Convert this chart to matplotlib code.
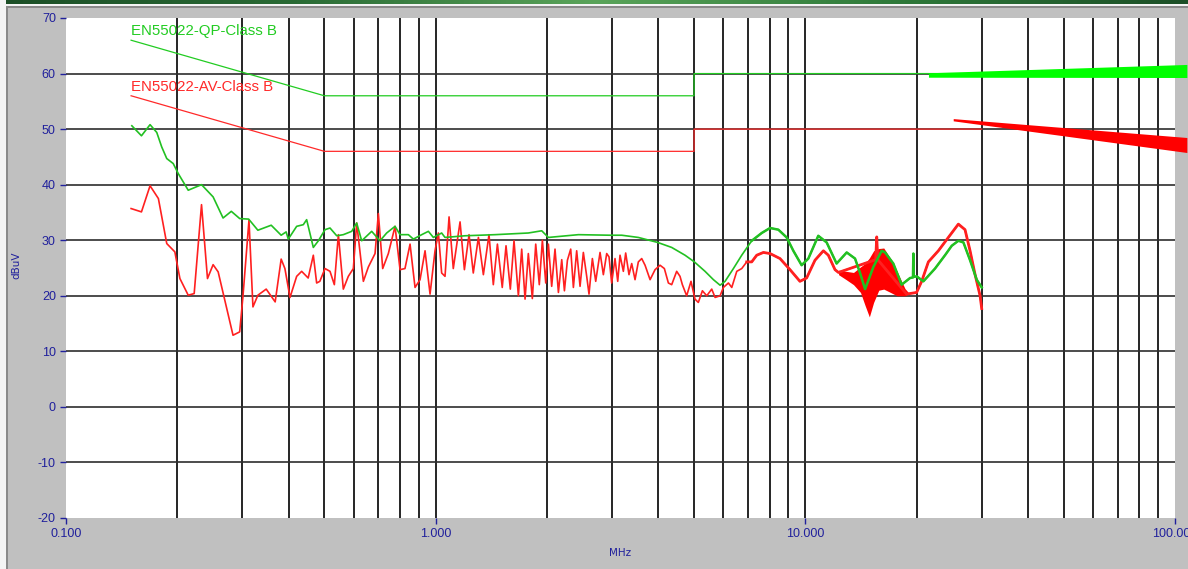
import numpy as np
import matplotlib
matplotlib.use('Agg')
import matplotlib.pyplot as plt
from matplotlib.patches import Rectangle
from matplotlib.colors import LinearSegmentedColormap

plt.rcParams['axes.unicode_minus'] = False

# ---------------- data ----------------
# limit lines (MHz, dBuV)
qp_lim_freq = [0.15, 0.5, 5, 5, 30]
qp_lim_db = [66, 56, 56, 60, 60]
av_lim_freq = [0.15, 0.5, 5, 5, 30]
av_lim_db = [56, 46, 46, 50, 50]

# rendering artefacts (wedges) seen at the right edge
qp_wedge_freq = [21.6, 108, 108, 21.6]
qp_wedge_db = [60.05, 61.55, 59.2, 59.25]
av_wedge_freq = [25.2, 108, 108, 25.2]
av_wedge_db = [51.8, 48.4, 45.7, 51.4]

# QP measured trace
qp_freq = [0.1507, 0.160, 0.1688, 0.176, 0.1815, 0.1873, 0.195, 0.2012, 0.2141, 0.2326,
           0.250, 0.266, 0.280, 0.295, 0.312, 0.3304, 0.359, 0.382, 0.394, 0.3993,
           0.4207, 0.4385, 0.4477, 0.4667, 0.4816, 0.502, 0.5178, 0.540, 0.5626, 0.5927,
           0.6114, 0.6308, 0.6713, 0.707, 0.737, 0.7764, 0.801, 0.8437, 0.8703, 0.9167,
           0.9556, 0.9858, 1.038, 1.06, 1.2, 1.447, 1.781, 1.936, 2.018, 2.433,
           2.964, 3.186, 3.534, 3.987, 4.350, 4.727, 5.010, 5.354, 5.641, 5.880,
           6.065, 6.389, 6.729, 7.161, 7.621, 8.027, 8.453, 8.903, 9.28, 9.772,
           10.19, 10.84, 11.42, 12.15, 12.94, 13.63, 14.06, 14.51, 15.28, 16.09,
           16.43, 17.30, 18.22, 19.20, 19.55, 19.6, 19.65, 20.01, 20.86, 22.43,
           23.87, 24.89, 25.94, 26.77, 27.90, 29.08, 30.0]
qp_db = [50.6, 48.8, 50.8, 49.4, 46.8, 44.7, 43.8, 42.0, 39.0, 40.0,
         37.8, 34.0, 35.2, 33.9, 33.8, 31.8, 32.7, 30.9, 31.5, 30.2,
         32.5, 32.8, 33.7, 28.7, 29.9, 31.9, 32.2, 30.8, 31.0, 31.6,
         33.1, 29.9, 31.6, 29.9, 31.3, 32.5, 31.0, 31.0, 30.2, 31.0,
         31.6, 30.5, 31.3, 30.5, 30.8, 31.0, 31.3, 31.7, 30.5, 31.0,
         30.9, 30.9, 30.5, 29.6, 28.7, 27.3, 26.1, 24.4, 22.9, 21.9,
         22.6, 24.9, 27.3, 29.9, 31.3, 32.2, 31.9, 30.5, 28.1, 25.5,
         26.7, 30.8, 29.6, 25.8, 27.8, 26.7, 24.1, 21.2, 25.2, 28.1,
         27.8, 25.8, 22.0, 23.2, 23.3, 27.6, 23.4, 23.5, 22.6, 24.9,
         27.3, 29.0, 29.9, 29.6, 26.4, 22.9, 21.5]

# AV measured trace
av_freq = [0.150, 0.160, 0.1688, 0.1778, 0.1873, 0.197, 0.2033, 0.2141, 0.2222, 0.2326,
           0.2414, 0.250, 0.258, 0.283, 0.295, 0.301, 0.3126, 0.3204, 0.3304, 0.348,
           0.368, 0.382, 0.391, 0.4036, 0.4207, 0.434, 0.452, 0.4667, 0.4765, 0.486,
           0.502, 0.5178, 0.532, 0.5455, 0.5626, 0.5804, 0.5988, 0.6114, 0.6374, 0.6577,
           0.6855, 0.6998, 0.719, 0.7447, 0.7764, 0.801, 0.826, 0.8525, 0.8794, 0.9073,
           0.936, 0.9656, 0.996, 1.017, 1.038, 1.060, 1.087, 1.116, 1.164, 1.196,
           1.231, 1.264, 1.305, 1.346, 1.394, 1.432, 1.469, 1.514, 1.550, 1.592,
           1.629, 1.674, 1.709, 1.745, 1.781, 1.826, 1.865, 1.907, 1.944, 1.985,
           2.018, 2.060, 2.103, 2.148, 2.193, 2.230, 2.272, 2.319, 2.358, 2.407,
           2.458, 2.509, 2.562, 2.599, 2.654, 2.710, 2.784, 2.842, 2.902, 2.944,
           2.993, 3.056, 3.108, 3.153, 3.219, 3.266, 3.334, 3.391, 3.462, 3.534,
           3.609, 3.685, 3.802, 3.922, 4.045, 4.156, 4.261, 4.350, 4.487, 4.581,
           4.649, 4.775, 4.906, 5.029, 5.135, 5.267, 5.411, 5.582, 5.700, 5.880,
           6.003, 6.193, 6.324, 6.524, 6.729, 6.942, 7.161, 7.387, 7.700, 8.027,
           8.54, 9.09, 9.67, 10.08, 10.62, 11.19, 11.54, 12.03, 12.29, 15.5,
           15.6, 15.7, 18.79, 20.0, 20.64, 21.52, 22.9, 24.37, 25.94, 27.04,
           27.90, 28.79, 29.70, 30.0]
av_db = [35.7, 35.1, 39.8, 37.5, 29.4, 27.9, 23.1, 20.1, 20.4, 36.4,
         23.1, 25.6, 24.3, 12.9, 13.5, 19.8, 33.6, 18.0, 20.1, 21.2,
         18.9, 26.6, 24.9, 19.7, 23.5, 24.4, 23.2, 27.3, 22.3, 22.6,
         24.9, 24.4, 22.0, 31.0, 21.2, 23.5, 24.9, 33.1, 22.6, 25.2,
         27.6, 34.8, 24.9, 27.6, 32.5, 24.7, 24.9, 29.3, 21.5, 22.9,
         28.1, 20.3, 28.1, 31.3, 24.1, 23.5, 34.2, 24.9, 33.3, 24.7,
         31.0, 24.1, 30.5, 23.8, 31.0, 22.0, 29.3, 21.5, 29.0, 21.2,
         29.9, 20.0, 28.4, 19.4, 27.6, 19.5, 29.3, 22.0, 30.0, 22.3,
         29.3, 21.7, 28.4, 20.6, 26.5, 20.9, 26.4, 28.4, 21.5, 28.1,
         21.7, 27.8, 23.5, 20.3, 26.7, 22.6, 27.8, 23.8, 27.6, 27.0,
         22.3, 26.7, 22.6, 27.3, 24.4, 27.7, 23.8, 25.8, 22.9, 26.1,
         26.7, 25.5, 22.9, 24.7, 25.5, 24.9, 22.3, 22.0, 24.4, 23.5,
         22.0, 20.0, 22.6, 19.4, 18.8, 20.9, 20.0, 21.2, 19.7, 20.0,
         21.5, 22.3, 21.5, 24.4, 24.9, 26.1, 26.1, 27.3, 27.8, 27.6,
         26.7, 24.7, 22.6, 23.2, 26.4, 28.1, 27.3, 24.7, 24.2, 26.5,
         30.6, 26.5, 20.3, 20.6, 22.6, 26.1, 28.1, 30.5, 32.9, 31.9,
         28.1, 23.8, 20.0, 17.7]

# AV dense noise band (envelopes)
band_freq = [12.3, 12.9, 13.5, 14.1, 14.5, 14.9, 15.3, 15.8, 16.3, 17.0, 17.7, 18.6, 19.0]
band_hi = [24.6, 24.4, 24.2, 25.2, 25.8, 26.8, 28.1, 28.5, 28.6, 26.7, 24.4, 21.3, 20.6]
band_lo = [23.8, 22.9, 22.0, 20.6, 18.3, 16.2, 18.8, 21.0, 21.2, 20.6, 20.0, 20.0, 20.3]

# axes ticks / grid
x_major = [0.1, 1, 10, 100]
x_major_labels = ['0.100', '1.000', '10.000', '100.000']
x_grid = [0.2, 0.3, 0.4, 0.5, 0.6, 0.7, 0.8, 0.9, 1, 2, 3, 4, 5, 6, 7, 8, 9,
          10, 20, 30, 40, 50, 60, 70, 80, 90]
y_ticks = [-20, -10, 0, 10, 20, 30, 40, 50, 60, 70]
y_grid = [-10, 0, 10, 20, 30, 40, 50, 60]

# ---------------- figure ----------------
W, H = 1188, 569
fig = plt.figure(figsize=(W / 100, H / 100), dpi=100)
fig.patch.set_facecolor('#c0c0c0')

# window decoration
fig.patches.append(Rectangle((0, 0), 6 / W, 1, transform=fig.transFigure,
                             facecolor='#f4f4f4', edgecolor='none'))
fig.patches.append(Rectangle((6 / W, 0), 1.5 / W, 1 - 6 / H, transform=fig.transFigure,
                             facecolor='#8a8a8a', edgecolor='none'))
fig.patches.append(Rectangle((0, 1 - 6 / H), 1, 2 / H, transform=fig.transFigure,
                             facecolor='#f4f4f4', edgecolor='none'))
fig.patches.append(Rectangle((6 / W, 1 - 7.5 / H), 1, 1.5 / H, transform=fig.transFigure,
                             facecolor='#8a8a8a', edgecolor='none'))
top = fig.add_axes([0, 1 - 4 / H, 1, 4 / H])
cmap = LinearSegmentedColormap.from_list('bar', ['#1c4f27', '#2a6b35', '#5aa45a', '#2f7a3a', '#1c4f27'])
top.imshow(np.linspace(0, 1, 256)[None, :], aspect='auto', cmap=cmap, extent=[0, 1, 0, 1])
top.set_axis_off()

ax = fig.add_axes([66 / W, 1 - 518 / H, (1175 - 66) / W, 500 / H])
ax.set_facecolor('white')
ax.set_xscale('log')
ax.set_xlim(0.1, 100)
ax.set_ylim(-20, 70)
for s in ax.spines.values():
    s.set_visible(False)

navy = '#20209c'
for f in x_grid:
    ax.axvline(f, color='black', lw=1.2, zorder=1)
for v in y_grid:
    ax.axhline(v, color='#2e2e2e', lw=1.2, zorder=1)

ax.set_xticks(x_major)
ax.set_xticklabels(x_major_labels)
ax.set_xticks([], minor=True)
ax.set_yticks(y_ticks)
ax.set_yticklabels([str(v) for v in y_ticks])
ax.tick_params(axis='both', which='major', direction='out', color=navy, labelcolor=navy,
               labelsize=9, width=1)
ax.tick_params(axis='x', length=4, pad=3)
ax.tick_params(axis='y', length=4.3, pad=3)
for lab in ax.get_xticklabels() + ax.get_yticklabels():
    lab.set_family('Liberation Sans')

# limit lines
ax.plot(qp_lim_freq, qp_lim_db, color='#22cc22', lw=0.9, zorder=3)
ax.plot(av_lim_freq, av_lim_db, color='#ff2a2a', lw=0.9, zorder=3)
ax.text(0.15, 67.6, 'EN55022-QP-Class B', color='#22cc22', fontsize=10.8,
        family='Liberation Sans', ha='left', va='center')
ax.text(0.15, 57.6, 'EN55022-AV-Class B', color='#ff2a2a', fontsize=10.8,
        family='Liberation Sans', ha='left', va='center')

# wedges (drawn outside axes too)
for p in ax.fill(qp_wedge_freq, qp_wedge_db, color='#00ff00', lw=0, zorder=5):
    p.set_clip_on(False)
for p in ax.fill(av_wedge_freq, av_wedge_db, color='#ff0000', lw=0, zorder=5):
    p.set_clip_on(False)

# measured traces (thicker where the sweep is dense, above ~7 MHz)
av_f = np.array(av_freq)
av_v = np.array(av_db)
qp_f = np.array(qp_freq)
qp_v = np.array(qp_db)
ax.fill_between(band_freq, band_lo, band_hi, color='#ff0000', lw=0, zorder=3)
ax.plot(av_f, av_v, color='#ff2020', lw=1.2, zorder=3)
hi = av_f >= 6.9
ax.plot(av_f[hi], av_v[hi], color='#ff2020', lw=2.0, zorder=3)
ax.plot(qp_f, qp_v, color='#22c022', lw=1.2, zorder=4)
hq = qp_f >= 6.9
ax.plot(qp_f[hq], qp_v[hq], color='#22c022', lw=1.8, zorder=4)

fig.text(620 / W, 1 - 553 / H, 'MHz', color=navy, fontsize=7.5, ha='center', va='center',
         family='DejaVu Sans')
fig.text(16 / W, 1 - 265 / H, 'dBuV', color=navy, fontsize=7.5, ha='center', va='center',
         rotation=90, family='DejaVu Sans')

fig.savefig('out.png', dpi=100, facecolor=fig.get_facecolor())
